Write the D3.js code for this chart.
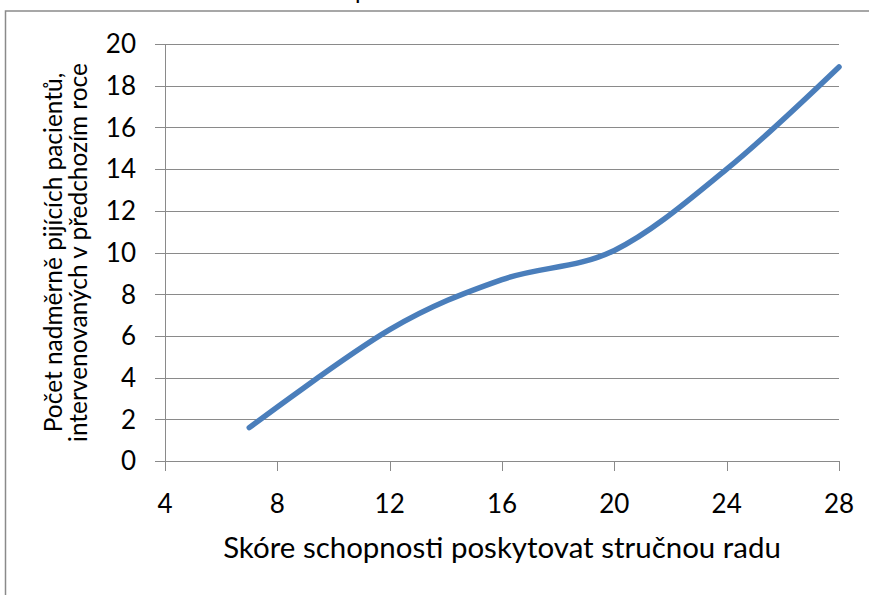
<!DOCTYPE html>
<html>
<head>
<meta charset="utf-8">
<style>
  body { margin: 0; background: #fff; }
  svg text { font-family: Lato, 'Open Sans', sans-serif; fill: #000; }
  .grid { stroke: #8a8a8a; stroke-width: 1.3; shape-rendering: crispEdges; }
</style>
</head>
<body>
<div id="chart"></div>
<script src="https://cdn.jsdelivr.net/npm/d3@7/dist/d3.min.js"></script>
<script>
// data
var xValues = [7, 12, 16, 20, 24, 28];
var yValues = [1.6, 6.3, 8.7, 10.1, 14, 18.9];
var xTicks = [4, 8, 12, 16, 20, 24, 28];
var yTicks = [0, 2, 4, 6, 8, 10, 12, 14, 16, 18, 20];
var chartTitle = 'p';
var xTitle = 'Skóre schopnosti poskytovat stručnou radu';
var yTitle = ['Počet nadměrně pijících pacientů,', 'intervenovaných v předchozím roce'];

var width = 869, height = 595;
var plot = { left: 165, right: 839, top: 44, bottom: 461 };

var svg = d3.select('#chart').append('svg')
  .attr('width', width)
  .attr('height', height);

// outer chart frame (runs off the right and bottom edges)
svg.append('rect')
  .attr('x', 5.5).attr('y', 11)
  .attr('width', 1000).attr('height', 1000)
  .attr('fill', 'none')
  .attr('stroke', '#8a8a8a')
  .attr('stroke-width', 1.5);

// what is left of the title above the frame
svg.append('text')
  .attr('x', 355).attr('y', -1)
  .style('font-size', '24px')
  .text(chartTitle);

var x = d3.scaleLinear().domain([4, 28]).range([plot.left, plot.right]);
var y = d3.scaleLinear().domain([0, 20]).range([plot.bottom, plot.top]);

// horizontal gridlines, with the tick stub on the left
svg.append('g').selectAll('line')
  .data(yTicks)
  .enter().append('line')
  .attr('class', 'grid')
  .attr('x1', plot.left - 10).attr('x2', plot.right)
  .attr('y1', function(d) { return Math.round(y(d)) + 0.5; })
  .attr('y2', function(d) { return Math.round(y(d)) + 0.5; });

// y axis line
svg.append('line')
  .attr('class', 'grid')
  .attr('x1', plot.left + 0.5).attr('x2', plot.left + 0.5)
  .attr('y1', plot.top).attr('y2', plot.bottom + 10);

// x ticks below the axis
svg.append('g').selectAll('line')
  .data(xTicks)
  .enter().append('line')
  .attr('class', 'grid')
  .attr('x1', function(d) { return Math.round(x(d)) + 0.5; })
  .attr('x2', function(d) { return Math.round(x(d)) + 0.5; })
  .attr('y1', plot.bottom).attr('y2', plot.bottom + 10);

// tick labels
svg.append('g').selectAll('text')
  .data(yTicks)
  .enter().append('text')
  .attr('x', 136)
  .attr('y', function(d) { return y(d); })
  .attr('dy', '0.36em')
  .attr('text-anchor', 'end')
  .style('font-size', '26px')
  .text(function(d) { return d; });

svg.append('g').selectAll('text')
  .data(xTicks)
  .enter().append('text')
  .attr('x', function(d) { return x(d); })
  .attr('y', 513)
  .attr('text-anchor', 'middle')
  .style('font-size', '26px')
  .text(function(d) { return d; });

// shrink or grow a text so it spans a given length
function fitText(sel, target) {
  var base = parseFloat(sel.style('font-size'));
  var len = sel.node().getComputedTextLength();
  sel.style('font-size', (base * target / len) + 'px');
}

var xt = svg.append('text')
  .attr('x', (plot.left + plot.right) / 2)
  .attr('y', 558)
  .attr('text-anchor', 'middle')
  .style('font-size', '26px')
  .text(xTitle);
fitText(xt, 558);

var yt = svg.append('g')
  .attr('transform', 'translate(0,' + (plot.top + plot.bottom) / 2 + ') rotate(-90)');
var yl = yt.selectAll('text')
  .data(yTitle)
  .enter().append('text')
  .attr('x', 0)
  .attr('y', function(d, i) { return 62 + i * 25; })
  .attr('text-anchor', 'middle')
  .style('font-size', '22px')
  .text(function(d) { return d; });
fitText(d3.select(yl.nodes()[1]), 379);
d3.select(yl.nodes()[0]).style('font-size', d3.select(yl.nodes()[1]).style('font-size'));

// the smoothed series line
var line = d3.line()
  .x(function(d) { return x(d[0]); })
  .y(function(d) { return y(d[1]); })
  .curve(d3.curveCardinal.tension(0));

svg.append('path')
  .datum(d3.zip(xValues, yValues))
  .attr('d', line)
  .attr('fill', 'none')
  .attr('stroke', '#4a7ebb')
  .attr('stroke-width', 5.5)
  .attr('stroke-linecap', 'round');
</script>
</body>
</html>
